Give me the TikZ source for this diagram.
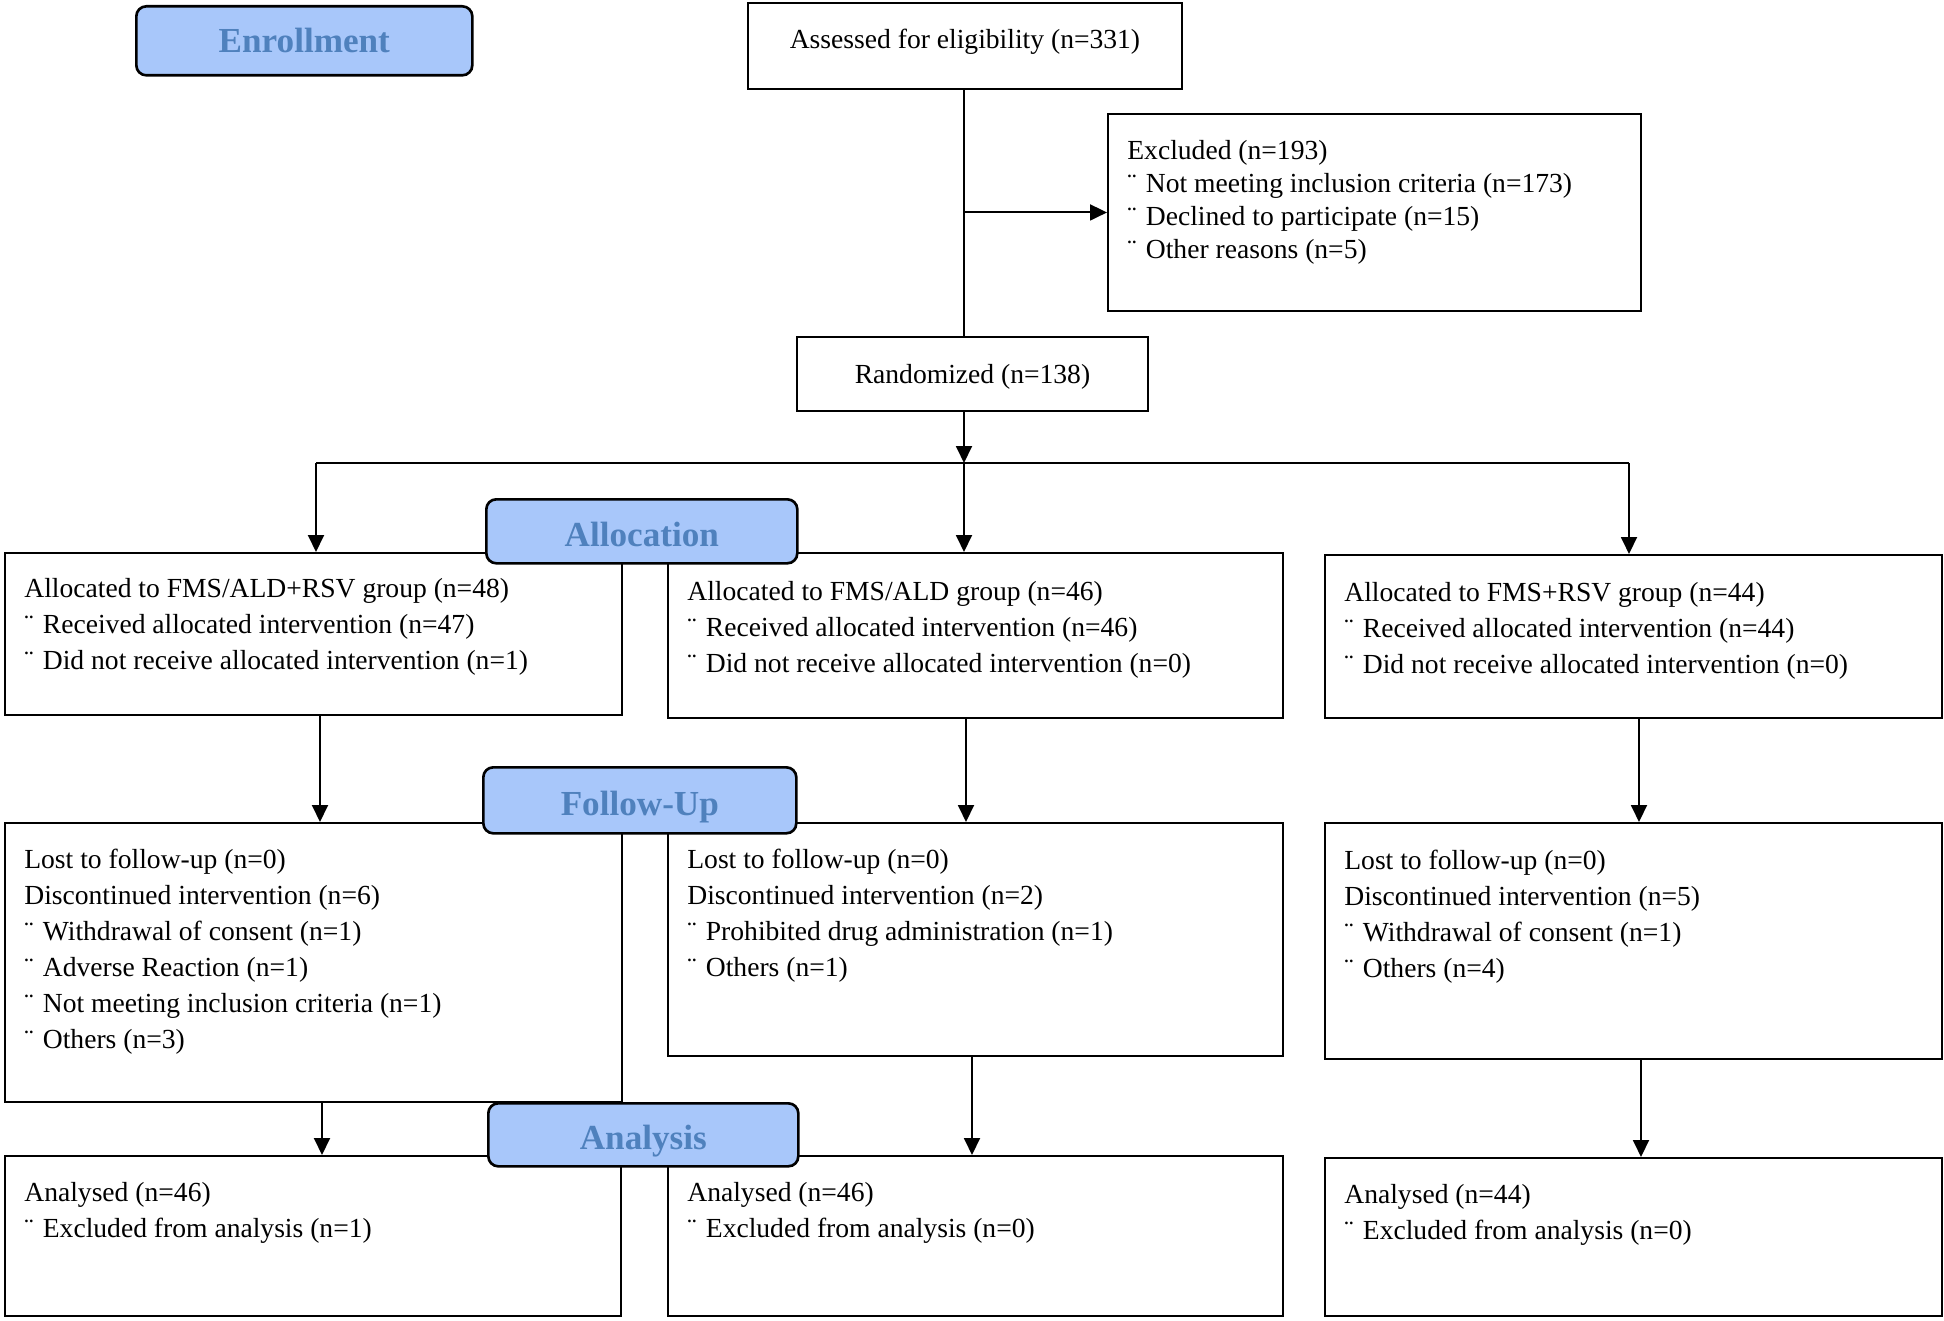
\documentclass[tikz,border=0pt]{standalone}
\usepackage{fontspec}
\setmainfont{Liberation Serif}
\usetikzlibrary{arrows.meta,calc}
\definecolor{lblfill}{RGB}{168,199,250}
\definecolor{lbltext}{RGB}{79,129,189}
\newcommand\bul{¨\hspace{0.34em}}
\newcommand\bx[7]{\node[#1, anchor=north west, minimum width={(#5-#3)*0.02cm}, minimum height={(#6-#4)*0.02cm}] (#2) at (#3,#4) {#7};}
\begin{document}
\begin{tikzpicture}[x=0.02cm,y=-0.02cm,
  box/.style={draw, line width=1.1pt, rectangle, inner sep=0, font=\fontsize{15.7}{20.5}\selectfont},
  lbl/.style={draw, line width=1.5pt, rounded corners=0.2cm, fill=lblfill, text=lbltext, inner sep=0, text height=17.4pt, text depth=0pt, font=\fontsize{20}{24}\selectfont\bfseries},
  txt/.style={anchor=north west, inner sep=0, align=left, font=\fontsize{15.7}{20.5}\selectfont},
  txtx/.style={anchor=north west, inner sep=0, align=left, font=\fontsize{15.7}{18.8}\selectfont},
  arr/.style={line width=1.1pt, -{Triangle[length=0.34cm,width=0.32cm]}},
  ln/.style={line width=1.1pt}]
\useasboundingbox (0,0) rectangle (1944,1321);
% main boxes
\bx{box,text depth=8pt}{ass}{747}{2}{1181}{88}{Assessed for eligibility (n=331)}
\bx{box}{exc}{1107}{113}{1640}{310}{}
\bx{box,text depth=0pt}{ran}{796}{336}{1147}{410}{Randomized (n=138)}
\bx{box}{a1}{4}{552}{621}{714}{}
\bx{box}{a2}{667}{552}{1282}{717}{}
\bx{box}{a3}{1324}{554}{1941}{717}{}
\bx{box}{f1}{4}{822}{621}{1101}{}
\bx{box}{f2}{667}{822}{1282}{1055}{}
\bx{box}{f3}{1324}{822}{1941}{1058}{}
\bx{box}{n1}{4}{1155}{620}{1315}{}
\bx{box}{n2}{667}{1155}{1282}{1315}{}
\bx{box}{n3}{1324}{1157}{1941}{1315}{}
% texts
\node[txtx] (t-exc) at ($(exc.north west)+(20,27)$) {Excluded (n=193)\\ \bul Not meeting inclusion criteria (n=173)\\ \bul Declined to participate (n=15)\\ \bul Other reasons (n=5)};
\node[txt] (t-a1) at ($(a1.north west)+(20,26)$) {Allocated to FMS/ALD+RSV group (n=48)\\ \bul Received allocated intervention (n=47)\\ \bul Did not receive allocated intervention (n=1)};
\node[txt] (t-a2) at ($(a2.north west)+(20,29)$) {Allocated to FMS/ALD group (n=46)\\ \bul Received allocated intervention (n=46)\\ \bul Did not receive allocated intervention (n=0)};
\node[txt] (t-a3) at ($(a3.north west)+(20,28)$) {Allocated to FMS+RSV group (n=44)\\ \bul Received allocated intervention (n=44)\\ \bul Did not receive allocated intervention (n=0)};
\node[txt] (t-f1) at ($(f1.north west)+(20,27)$) {Lost to follow-up (n=0)\\ Discontinued intervention (n=6)\\ \bul Withdrawal of consent (n=1)\\ \bul Adverse Reaction (n=1)\\ \bul Not meeting inclusion criteria (n=1)\\ \bul Others (n=3)};
\node[txt] (t-f2) at ($(f2.north west)+(20,27)$) {Lost to follow-up (n=0)\\ Discontinued intervention (n=2)\\ \bul Prohibited drug administration (n=1)\\ \bul Others (n=1)};
\node[txt] (t-f3) at ($(f3.north west)+(20,28)$) {Lost to follow-up (n=0)\\ Discontinued intervention (n=5)\\ \bul Withdrawal of consent (n=1)\\ \bul Others (n=4)};
\node[txt] (t-n1) at ($(n1.north west)+(20,27)$) {Analysed (n=46)\\ \bul Excluded from analysis (n=1)};
\node[txt] (t-n2) at ($(n2.north west)+(20,27)$) {Analysed (n=46)\\ \bul Excluded from analysis (n=0)};
\node[txt] (t-n3) at ($(n3.north west)+(20,27)$) {Analysed (n=44)\\ \bul Excluded from analysis (n=0)};
% stage labels
\bx{lbl,text height=13.6pt}{enr}{135}{5}{471}{74}{Enrollment}
\bx{lbl}{alc}{485}{498}{796}{562}{Allocation}
\bx{lbl}{fol}{482}{766}{795}{832}{Follow-Up}
\bx{lbl,text height=16.4pt}{ana}{487}{1102}{797}{1165}{Analysis}
% connectors
\coordinate (cm) at (964,0);
\coordinate (j1) at (cm |- exc.west);
\coordinate (br) at (964,463);
\coordinate (bl) at (316,463);
\coordinate (brr) at (1629,463);
\coordinate (x1) at (320,0);
\coordinate (x1b) at (322,0);
\coordinate (x2) at (966,0);
\coordinate (x2b) at (972,0);
\coordinate (x3) at (1639,0);
\coordinate (x3b) at (1641,0);
\draw[ln] (ass.south -| cm) -- (ran.north -| cm);
\draw[arr] (j1) -- (exc.west);
\draw[arr] (ran.south -| cm) -- (br);
\draw[ln] (bl) -- (brr);
\draw[arr] (bl) -- (bl |- a1.north);
\draw[arr] (br) -- (br |- a2.north);
\draw[arr] (brr) -- (brr |- a3.north);
\draw[arr] (a1.south -| x1) -- (f1.north -| x1);
\draw[arr] (a2.south -| x2) -- (f2.north -| x2);
\draw[arr] (a3.south -| x3) -- (f3.north -| x3);
\draw[arr] (f1.south -| x1b) -- (n1.north -| x1b);
\draw[arr] (f2.south -| x2b) -- (n2.north -| x2b);
\draw[arr] (f3.south -| x3b) -- (n3.north -| x3b);
\end{tikzpicture}
\end{document}
